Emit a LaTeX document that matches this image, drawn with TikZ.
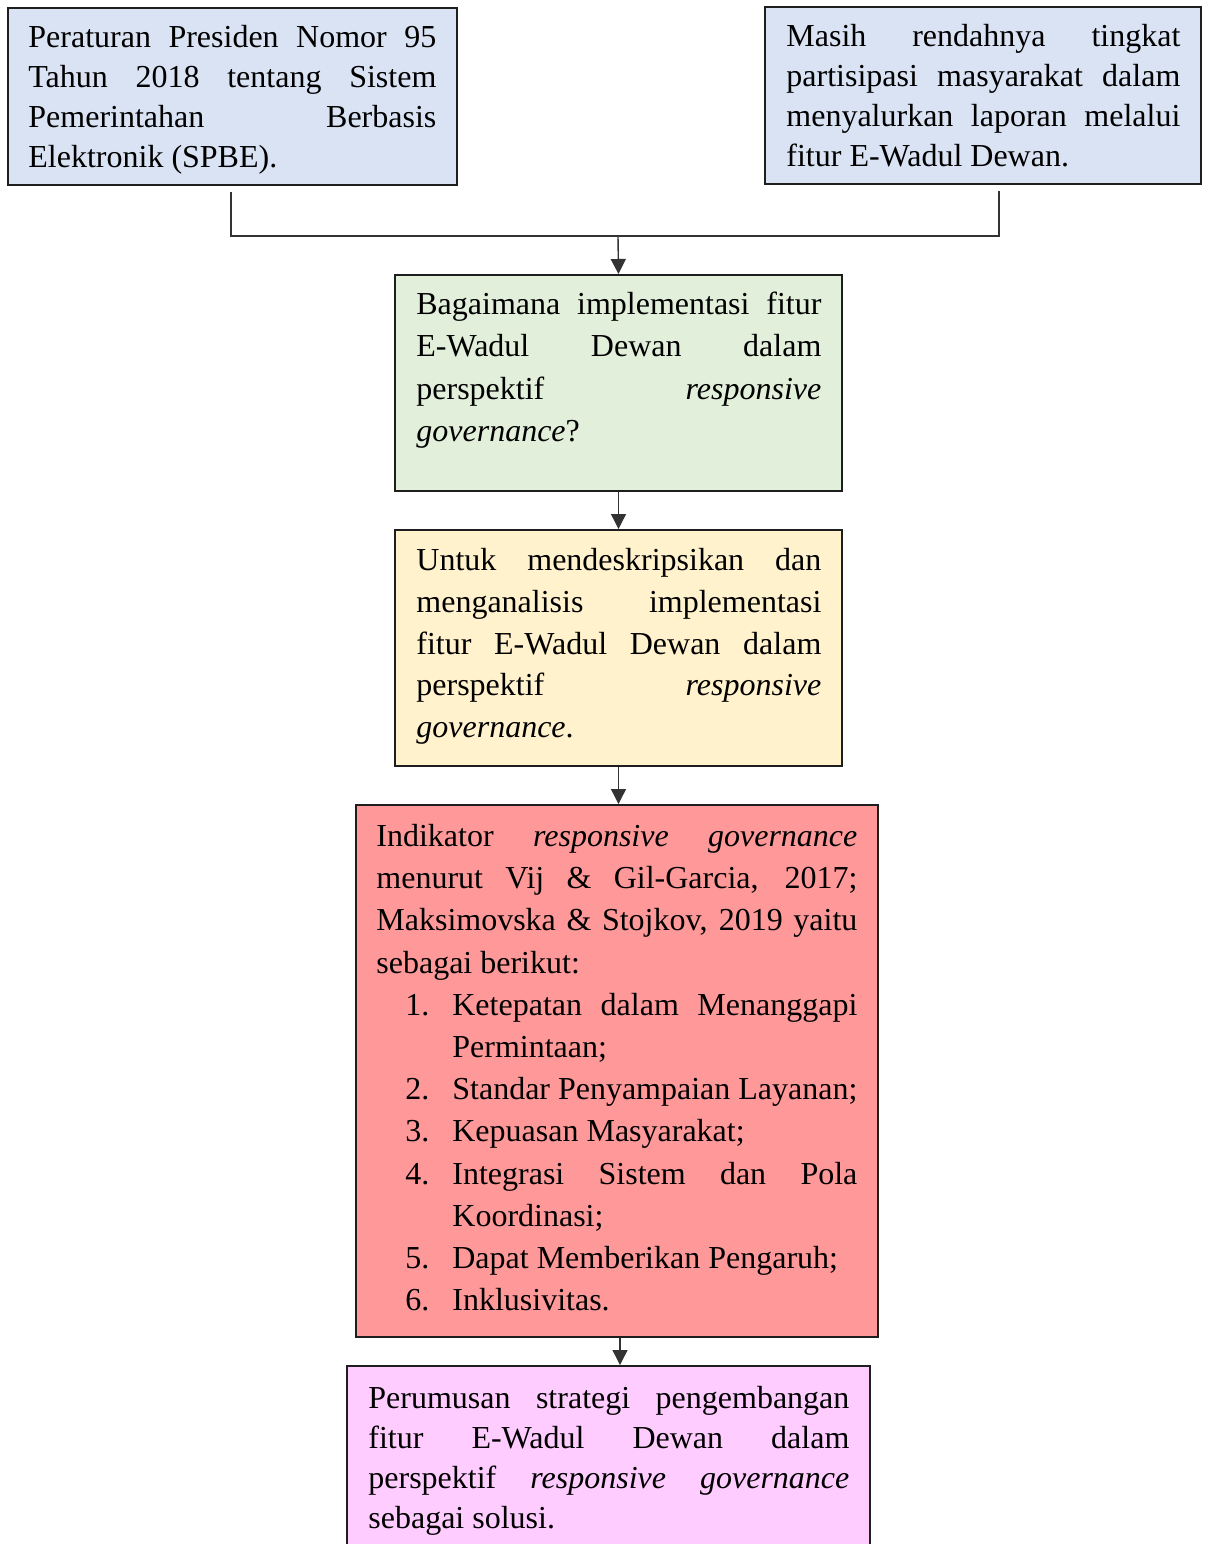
\documentclass[tikz,border=0pt]{standalone}
\usepackage{fontspec}
\setmainfont{Liberation Serif}
\usetikzlibrary{arrows.meta,fit}
\definecolor{bluefill}{HTML}{DAE3F3}
\definecolor{greenfill}{HTML}{E2EFDA}
\definecolor{yellowfill}{HTML}{FFF2CC}
\definecolor{redfill}{HTML}{FF9999}
\definecolor{pinkfill}{HTML}{FFCCFF}
\definecolor{edgegray}{HTML}{1E1E1E}
\definecolor{linegray}{HTML}{333333}
\newcommand{\itm}[2]{\par\hangindent=38pt\hangafter=1\noindent\makebox[38pt][l]{\hspace*{14.5pt}#1}#2}
\newcommand{\tx}[2]{\fontsize{16pt}{#1}\selectfont\hyphenpenalty=10000 \exhyphenpenalty=10000 \tolerance=10000 \hbadness=10000 \noindent\vrule height #2 width 0pt depth 0pt\relax}
\begin{document}
\begin{tikzpicture}[x=0.5pt,y=-0.5pt,
  box/.style={draw=edgegray,line width=1pt,inner sep=0pt,rectangle},
  txt/.style={anchor=north west,inner sep=0pt,align=justify},
  conn/.style={draw=linegray,line width=0.7pt},
  arr/.style={conn,-{Triangle[length=7.5pt,width=7.5pt]}}]
\clip (0,0) rectangle (1208,1544);
\fill[white] (0,0) rectangle (1208,1544);
% boxes
\node[box,fill=bluefill,fit={(8,8) (457,185)}] (b1) {};
\node[box,fill=bluefill,fit={(765,7) (1201,184)}] (b2) {};
\node[box,fill=greenfill,fit={(395,275) (842,491)}] (b3) {};
\node[box,fill=yellowfill,fit={(395,530) (842,766)}] (b4) {};
\node[box,fill=redfill,fit={(356,805) (878,1337)}] (b5) {};
\node[box,fill=pinkfill,fit={(347,1366) (870,1620)}] (b6) {};
% texts
\node[txt,text width=204pt] (t1) at (28,8) {\tx{20pt}{19.3pt}Peraturan Presiden Nomor 95\linebreak Tahun 2018 tentang Sistem\linebreak Pemerintahan Berbasis\linebreak Elektronik (SPBE).\par};
\node[txt,text width=197pt] (t2) at (786,7) {\tx{20pt}{19.5pt}Masih rendahnya tingkat\linebreak partisipasi masyarakat dalam\linebreak menyalurkan laporan melalui\linebreak fitur E-Wadul Dewan.\par};
\node[txt,text width=202.5pt] (t3) at (416,275) {\tx{21.15pt}{19.5pt}Bagaimana implementasi fitur\linebreak E-Wadul Dewan dalam\linebreak perspektif \emph{responsive}\linebreak \emph{governance}?\par};
\node[txt,text width=202.5pt] (t4) at (416,530) {\tx{20.9pt}{20pt}Untuk mendeskripsikan dan\linebreak menganalisis implementasi\linebreak fitur E-Wadul Dewan dalam\linebreak perspektif \emph{responsive}\linebreak \emph{governance}.\par};
\node[txt,text width=240.5pt] (t5) at (376,805) {\tx{21.1pt}{20.5pt}Indikator \emph{responsive governance}\linebreak menurut Vij \& Gil-Garcia, 2017;\linebreak Maksimovska \& Stojkov, 2019 yaitu\linebreak sebagai berikut:%
\itm{1.}{Ketepatan dalam Menanggapi\linebreak Permintaan;}%
\itm{2.}{Standar Penyampaian Layanan;}%
\itm{3.}{Kepuasan Masyarakat;}%
\itm{4.}{Integrasi Sistem dan Pola\linebreak Koordinasi;}%
\itm{5.}{Dapat Memberikan Pengaruh;}%
\itm{6.}{Inklusivitas.}\par};
\node[txt,text width=240.5pt] (t6) at (368,1366) {\tx{20pt}{20.8pt}Perumusan strategi pengembangan\linebreak fitur E-Wadul Dewan dalam\linebreak perspektif \emph{responsive governance}\linebreak sebagai solusi.\par};
% connectors
\coordinate (j) at (618,236);
\draw[conn] ([xshift=-0.75pt,yshift=-3pt]b1.south) |- (j) -| ([xshift=8pt,yshift=-3pt]b2.south);
\draw[arr] (j) -- (b3.north);
\draw[arr] (b3.south) -- (b4.north);
\draw[arr] (b4.south) -- (b4.south |- b5.north);
\draw[arr] ([xshift=1.5pt]b5.south) -- ([xshift=1.5pt]b5.south |- b6.north);
\end{tikzpicture}
\end{document}
